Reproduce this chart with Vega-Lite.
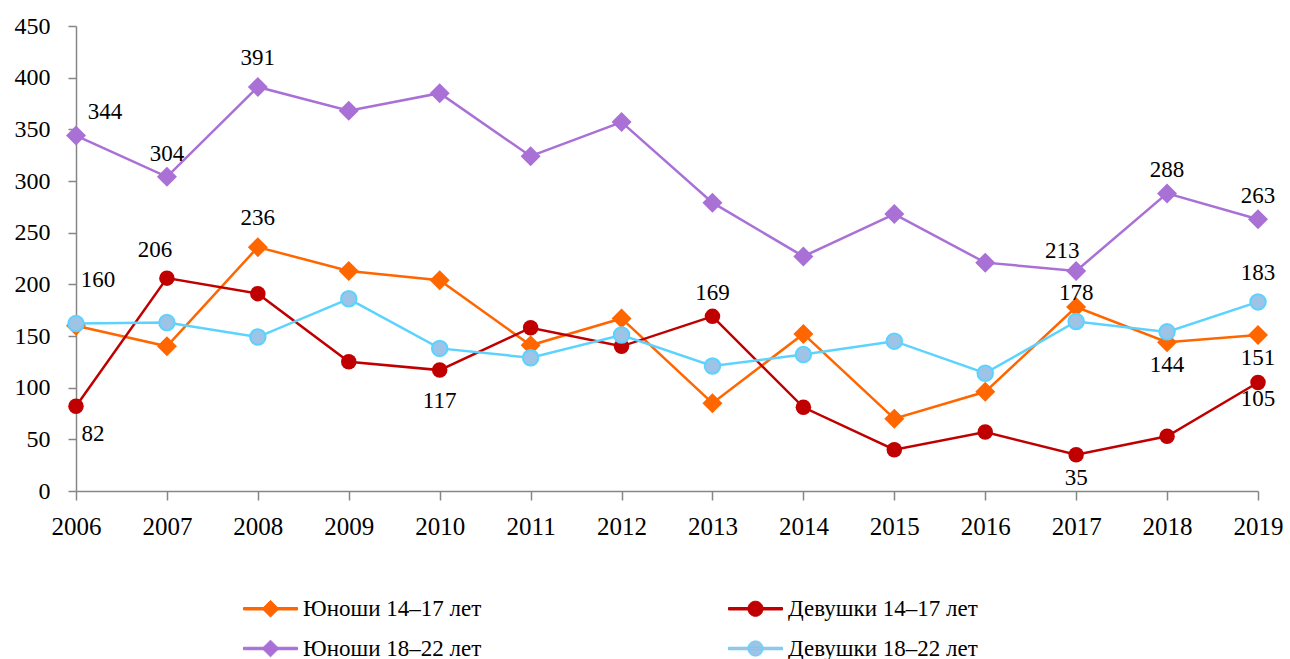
{
  "$schema": "https://vega.github.io/schema/vega-lite/v6.json",
  "width": 1182,
  "height": 465,
  "autosize": "none",
  "padding": {"left": 76, "top": 26, "right": 32, "bottom": 168},
  "background": "white",
  "config": {
    "view": {"stroke": null},
    "font": "Liberation Serif",
    "axis": {"grid": false, "domainColor": "#868686", "tickColor": "#868686", "domainWidth": 1.5, "tickWidth": 1.5, "labelFont": "Liberation Serif", "labelFontSize": 24, "labelColor": "#000000", "title": null},
    "text": {"font": "Liberation Serif", "fontSize": 23, "color": "#000000"}
  },
  "data": {"values": [
    {"year": 2006, "series": "Юноши 14–17 лет", "value": 160},
    {"year": 2007, "series": "Юноши 14–17 лет", "value": 140},
    {"year": 2008, "series": "Юноши 14–17 лет", "value": 236},
    {"year": 2009, "series": "Юноши 14–17 лет", "value": 213},
    {"year": 2010, "series": "Юноши 14–17 лет", "value": 204},
    {"year": 2011, "series": "Юноши 14–17 лет", "value": 141},
    {"year": 2012, "series": "Юноши 14–17 лет", "value": 167},
    {"year": 2013, "series": "Юноши 14–17 лет", "value": 85},
    {"year": 2014, "series": "Юноши 14–17 лет", "value": 152},
    {"year": 2015, "series": "Юноши 14–17 лет", "value": 70},
    {"year": 2016, "series": "Юноши 14–17 лет", "value": 96},
    {"year": 2017, "series": "Юноши 14–17 лет", "value": 178},
    {"year": 2018, "series": "Юноши 14–17 лет", "value": 144},
    {"year": 2019, "series": "Юноши 14–17 лет", "value": 151},
    {"year": 2006, "series": "Девушки 14–17 лет", "value": 82},
    {"year": 2007, "series": "Девушки 14–17 лет", "value": 206},
    {"year": 2008, "series": "Девушки 14–17 лет", "value": 191},
    {"year": 2009, "series": "Девушки 14–17 лет", "value": 125},
    {"year": 2010, "series": "Девушки 14–17 лет", "value": 117},
    {"year": 2011, "series": "Девушки 14–17 лет", "value": 158},
    {"year": 2012, "series": "Девушки 14–17 лет", "value": 140},
    {"year": 2013, "series": "Девушки 14–17 лет", "value": 169},
    {"year": 2014, "series": "Девушки 14–17 лет", "value": 81},
    {"year": 2015, "series": "Девушки 14–17 лет", "value": 40},
    {"year": 2016, "series": "Девушки 14–17 лет", "value": 57},
    {"year": 2017, "series": "Девушки 14–17 лет", "value": 35},
    {"year": 2018, "series": "Девушки 14–17 лет", "value": 53},
    {"year": 2019, "series": "Девушки 14–17 лет", "value": 105},
    {"year": 2006, "series": "Юноши 18–22 лет", "value": 344},
    {"year": 2007, "series": "Юноши 18–22 лет", "value": 304},
    {"year": 2008, "series": "Юноши 18–22 лет", "value": 391},
    {"year": 2009, "series": "Юноши 18–22 лет", "value": 368},
    {"year": 2010, "series": "Юноши 18–22 лет", "value": 385},
    {"year": 2011, "series": "Юноши 18–22 лет", "value": 324},
    {"year": 2012, "series": "Юноши 18–22 лет", "value": 357},
    {"year": 2013, "series": "Юноши 18–22 лет", "value": 279},
    {"year": 2014, "series": "Юноши 18–22 лет", "value": 227},
    {"year": 2015, "series": "Юноши 18–22 лет", "value": 268},
    {"year": 2016, "series": "Юноши 18–22 лет", "value": 221},
    {"year": 2017, "series": "Юноши 18–22 лет", "value": 213},
    {"year": 2018, "series": "Юноши 18–22 лет", "value": 288},
    {"year": 2019, "series": "Юноши 18–22 лет", "value": 263},
    {"year": 2006, "series": "Девушки 18–22 лет", "value": 162},
    {"year": 2007, "series": "Девушки 18–22 лет", "value": 163},
    {"year": 2008, "series": "Девушки 18–22 лет", "value": 149},
    {"year": 2009, "series": "Девушки 18–22 лет", "value": 186},
    {"year": 2010, "series": "Девушки 18–22 лет", "value": 138},
    {"year": 2011, "series": "Девушки 18–22 лет", "value": 129},
    {"year": 2012, "series": "Девушки 18–22 лет", "value": 151},
    {"year": 2013, "series": "Девушки 18–22 лет", "value": 121},
    {"year": 2014, "series": "Девушки 18–22 лет", "value": 132},
    {"year": 2015, "series": "Девушки 18–22 лет", "value": 145},
    {"year": 2016, "series": "Девушки 18–22 лет", "value": 114},
    {"year": 2017, "series": "Девушки 18–22 лет", "value": 164},
    {"year": 2018, "series": "Девушки 18–22 лет", "value": 154},
    {"year": 2019, "series": "Девушки 18–22 лет", "value": 183}
  ]},
  "encoding": {
    "x": {"field": "year", "type": "ordinal", "scale": {"type": "point", "padding": 0}, "axis": {"labelAngle": 0, "tickSize": 9, "labelPadding": 14, "labelFontSize": 25}},
    "y": {"field": "value", "type": "quantitative", "scale": {"domain": [0, 450], "nice": false}, "axis": {"values": [0, 50, 100, 150, 200, 250, 300, 350, 400, 450], "tickSize": 8, "labelPadding": 18}}
  },
  "layer": [
    {
      "mark": {"type": "line", "strokeWidth": 2.5},
      "encoding": {
        "stroke": {
          "field": "series", "type": "nominal", "title": null,
          "scale": {"domain": ["Юноши 14–17 лет", "Девушки 14–17 лет", "Юноши 18–22 лет", "Девушки 18–22 лет"], "range": ["#FF6600", "#C00000", "#A970D6", "#5BD3FF"]},
          "legend": {
            "orient": "none", "legendX": 167, "legendY": 555, "columns": 2, "direction": "horizontal",
            "symbolSize": 2916, "symbolStrokeWidth": 1,
            "labelFont": "Liberation Serif", "labelFontSize": 23, "labelColor": "#000000", "labelOffset": 5, "labelLimit": 400,
            "columnPadding": 244, "rowPadding": -14,
            "encode": {"symbols": {"update": {
              "shape": {"signal": "indexof(datum.value, 'Юноши') === 0 ? 'M-1,-0.046H1V0.046H-1Z M0,-0.31L0.31,0L0,0.31L-0.31,0Z' : 'M-1,-0.046H1V0.046H-1Z M-0.28,0A0.28,0.28,0,1,1,0.28,0A0.28,0.28,0,1,1,-0.28,0Z'"},
              "fill": {"signal": "datum.value === 'Девушки 18–22 лет' ? '#9DC3E6' : scale('stroke', datum.value)"},
              "stroke": {"signal": "scale('stroke', datum.value)"},
              "fillOpacity": {"value": 1},
              "strokeWidth": {"value": 1}
            }}}
          }
        }
      }
    },
    {
      "transform": [{"filter": "indexof(datum.series, 'Юноши') === 0"}],
      "mark": {"type": "point", "shape": "diamond", "filled": true, "opacity": 1, "size": 400},
      "encoding": {
        "fill": {"field": "series", "type": "nominal", "legend": null,
          "scale": {"domain": ["Юноши 14–17 лет", "Девушки 14–17 лет", "Юноши 18–22 лет", "Девушки 18–22 лет"], "range": ["#FF6600", "#C00000", "#A970D6", "#9DC3E6"]}}
      }
    },
    {
      "transform": [{"filter": "indexof(datum.series, 'Девушки') === 0"}],
      "mark": {"type": "point", "shape": "circle", "filled": true, "opacity": 1, "size": 240},
      "encoding": {
        "fill": {"field": "series", "type": "nominal", "legend": null}
      }
    },
    {
      "transform": [{"filter": "datum.series === 'Девушки 18–22 лет'"}],
      "mark": {"type": "point", "shape": "circle", "filled": false, "opacity": 1, "size": 240, "stroke": "#5BD3FF", "strokeWidth": 2}
    },
    {
      "transform": [{"filter": "(datum.series === 'Юноши 18–22 лет' && (datum.year === 2007 || datum.year === 2018 || datum.year === 2019)) || (datum.series === 'Девушки 14–17 лет' && datum.year === 2013)"}],
      "mark": {"type": "text", "dy": -23},
      "encoding": {"text": {"field": "value", "type": "quantitative"}}
    },
    {
      "transform": [{"filter": "(datum.series === 'Юноши 18–22 лет' && datum.year === 2008) || (datum.series === 'Юноши 14–17 лет' && datum.year === 2008) || (datum.series === 'Девушки 18–22 лет' && datum.year === 2019)"}],
      "mark": {"type": "text", "dy": -29},
      "encoding": {"text": {"field": "value", "type": "quantitative"}}
    },
    {
      "transform": [{"filter": "datum.series === 'Юноши 18–22 лет' && datum.year === 2006"}],
      "mark": {"type": "text", "dx": 29, "dy": -24},
      "encoding": {"text": {"field": "value", "type": "quantitative"}}
    },
    {
      "transform": [{"filter": "datum.series === 'Юноши 14–17 лет' && datum.year === 2006"}],
      "mark": {"type": "text", "dx": 22, "dy": -46},
      "encoding": {"text": {"field": "value", "type": "quantitative"}}
    },
    {
      "transform": [{"filter": "datum.series === 'Юноши 18–22 лет' && datum.year === 2017"}],
      "mark": {"type": "text", "dx": -14, "dy": -20},
      "encoding": {"text": {"field": "value", "type": "quantitative"}}
    },
    {
      "transform": [{"filter": "datum.series === 'Девушки 14–17 лет' && datum.year === 2007"}],
      "mark": {"type": "text", "dx": -12, "dy": -28},
      "encoding": {"text": {"field": "value", "type": "quantitative"}}
    },
    {
      "transform": [{"filter": "datum.series === 'Юноши 14–17 лет' && datum.year === 2017"}],
      "mark": {"type": "text", "dy": -14},
      "encoding": {"text": {"field": "value", "type": "quantitative"}}
    },
    {
      "transform": [{"filter": "(datum.series === 'Юноши 14–17 лет' && (datum.year === 2018 || datum.year === 2019)) || (datum.series === 'Девушки 14–17 лет' && datum.year === 2017)"}],
      "mark": {"type": "text", "dy": 23},
      "encoding": {"text": {"field": "value", "type": "quantitative"}}
    },
    {
      "transform": [{"filter": "datum.series === 'Девушки 14–17 лет' && datum.year === 2019"}],
      "mark": {"type": "text", "dy": 16},
      "encoding": {"text": {"field": "value", "type": "quantitative"}}
    },
    {
      "transform": [{"filter": "datum.series === 'Девушки 14–17 лет' && datum.year === 2010"}],
      "mark": {"type": "text", "dy": 31},
      "encoding": {"text": {"field": "value", "type": "quantitative"}}
    },
    {
      "transform": [{"filter": "datum.series === 'Девушки 14–17 лет' && datum.year === 2006"}],
      "mark": {"type": "text", "dx": 17, "dy": 28},
      "encoding": {"text": {"field": "value", "type": "quantitative"}}
    }
  ]
}
